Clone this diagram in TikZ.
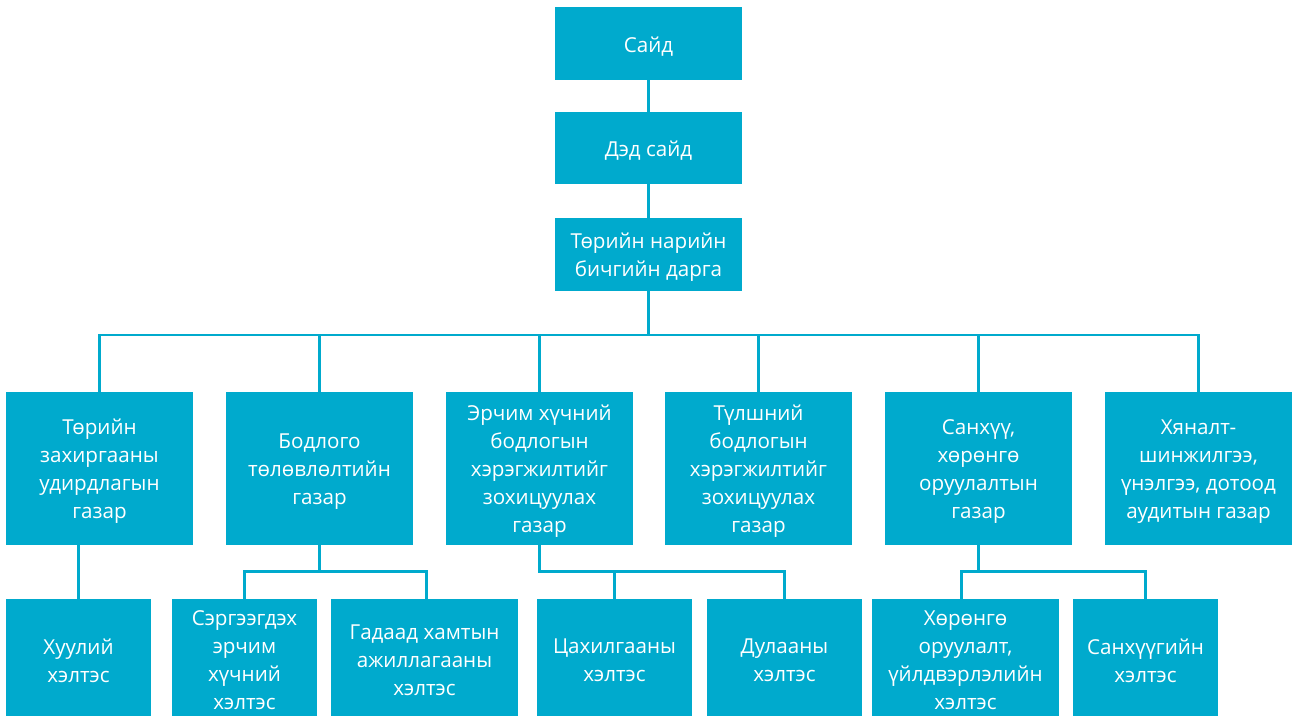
\documentclass[tikz,border=0pt]{standalone}
\usepackage{fontspec}
\setmainfont{Open Sans}
\definecolor{boxc}{RGB}{0,170,205}
\begin{document}
\begin{tikzpicture}[x=1pt,y=-1pt,
  box/.style={fill=boxc,inner sep=0pt},
  txt/.style={text=white,inner sep=0pt,align=center,yshift=-3pt,
    font=\fontsize{20.6}{28}\selectfont},
  link/.style={draw=boxc,line width=2.2pt}]
\useasboundingbox (0,0) rectangle (1292,716);
% top chain
\node[box,minimum width=187pt,minimum height=73pt] (s) at (648.5,43.5) {};
\node[txt] (st) at (s) {Сайд};
\node[box,minimum width=187pt,minimum height=72pt] (d) at (648.5,148) {};
\node[txt] (dt) at (d) {Дэд сайд};
\node[box,minimum width=187pt,minimum height=73pt] (t) at (648.5,254.5) {};
\node[txt] (tt) at (t) {Төрийн нарийн\\бичгийн дарга};
% level 2
\node[box,minimum width=187pt,minimum height=153pt] (b1) at (99.5,468.5) {};
\node[txt] (b1t) at (b1) {Төрийн\\захиргааны\\удирдлагын\\газар};
\node[box,minimum width=187pt,minimum height=153pt] (b2) at (319.5,468.5) {};
\node[txt] (b2t) at (b2) {Бодлого\\төлөвлөлтийн\\газар};
\node[box,minimum width=187pt,minimum height=153pt] (b3) at (539.5,468.5) {};
\node[txt] (b3t) at (b3) {Эрчим хүчний\\бодлогын\\хэрэгжилтийг\\зохицуулах\\газар};
\node[box,minimum width=187pt,minimum height=153pt] (b4) at (758.5,468.5) {};
\node[txt] (b4t) at (b4) {Түлшний\\бодлогын\\хэрэгжилтийг\\зохицуулах\\газар};
\node[box,minimum width=187pt,minimum height=153pt] (b5) at (978.5,468.5) {};
\node[txt] (b5t) at (b5) {Санхүү,\\хөрөнгө\\оруулалтын\\газар};
\node[box,minimum width=187pt,minimum height=153pt] (b6) at (1198.5,468.5) {};
\node[txt] (b6t) at (b6) {Хяналт-\\шинжилгээ,\\үнэлгээ, дотоод\\аудитын газар};
% level 3
\node[box,minimum width=145pt,minimum height=117pt] (h) at (78.5,657.5) {};
\node[txt] (ht) at (h) {Хуулий\\хэлтэс};
\node[box,minimum width=145pt,minimum height=117pt] (c1) at (244.5,657.5) {};
\node[txt] (c1t) at (c1) {Сэргээгдэх\\эрчим\\хүчний\\хэлтэс};
\node[box,minimum width=187pt,minimum height=117pt] (c2) at (424.5,657.5) {};
\node[txt] (c2t) at (c2) {Гадаад хамтын\\ажиллагааны\\хэлтэс};
\node[box,minimum width=155pt,minimum height=117pt] (e1) at (614.5,657.5) {};
\node[txt] (e1t) at (e1) {Цахилгааны\\хэлтэс};
\node[box,minimum width=155pt,minimum height=117pt] (e2) at (784.5,657.5) {};
\node[txt] (e2t) at (e2) {Дулааны\\хэлтэс};
\node[box,minimum width=187pt,minimum height=117pt] (f1) at (965.5,657.5) {};
\node[txt] (f1t) at (f1) {Хөрөнгө\\оруулалт,\\үйлдвэрлэлийн\\хэлтэс};
\node[box,minimum width=145pt,minimum height=117pt] (f2) at (1145.5,657.5) {};
\node[txt] (f2t) at (f2) {Санхүүгийн\\хэлтэс};
% bus coordinates
\coordinate (bus) at (0,335);
\coordinate (bus2) at (0,571.5);
% connectors
\draw[link] (s) -- (d);
\draw[link] (d) -- (t);
\draw[link] (t.south) -- (t.south |- bus);
\draw[link] (b1.north) -- (b1.north |- bus) -- (b6.north |- bus) -- (b6.north);
\foreach \n in {b2,b3,b4,b5} \draw[link] (\n.north) -- (\n.north |- bus);
\draw[link] (h.north) -- (h.north |- b1.south);
\draw[link] (b2.south) -- (b2.south |- bus2);
\draw[link] (c1.north) -- (c1.north |- bus2) -- ([xshift=2pt]c2.north |- bus2) -- ([xshift=2pt]c2.north);
\draw[link] (b3.south) -- (b3.south |- bus2) -- (e2.north |- bus2) -- (e2.north);
\draw[link] (e1.north) -- (e1.north |- bus2);
\draw[link] (b5.south) -- (b5.south |- bus2);
\draw[link] ([xshift=-4pt]f1.north) -- ([xshift=-4pt]f1.north |- bus2) -- (f2.north |- bus2) -- (f2.north);
\end{tikzpicture}
\end{document}
